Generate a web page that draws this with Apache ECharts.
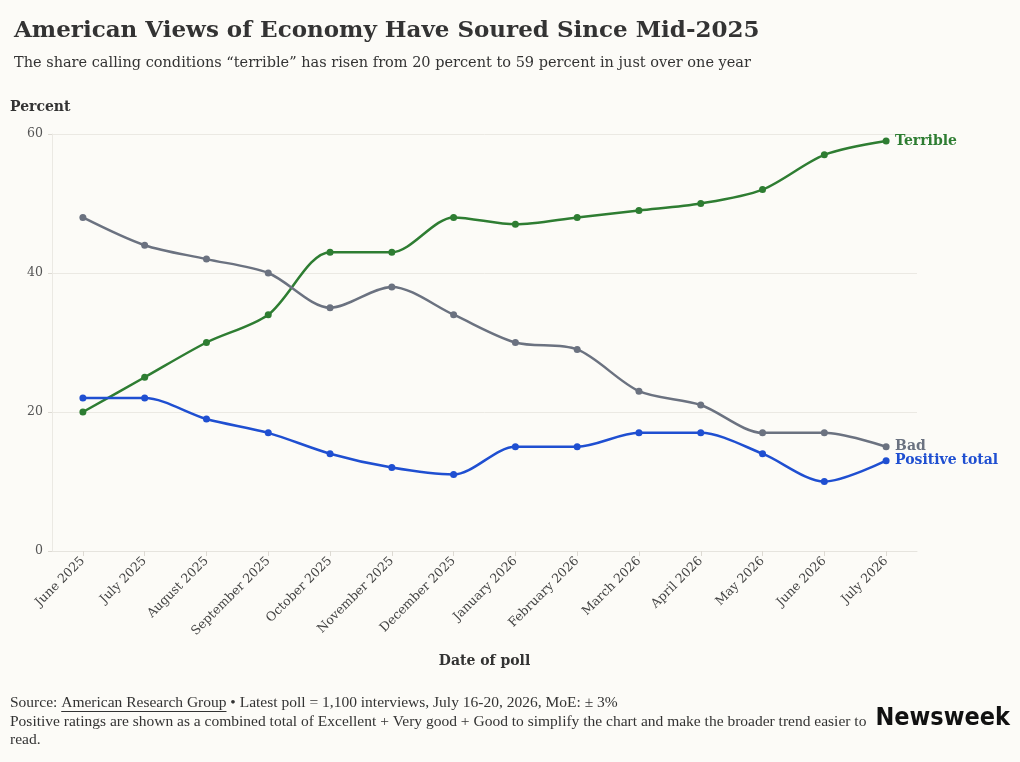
<!DOCTYPE html>
<html>
<head>
<meta charset="utf-8">
<script src="https://cdn.jsdelivr.net/npm/echarts@6/dist/echarts.min.js"></script>
<style>
  html, body { margin: 0; padding: 0; background: #fcfbf7; }
  #chart { width: 1020px; height: 762px; }
</style>
</head>
<body>
<div id="chart"></div>
<script>
const months = [
  "June 2025", "July 2025", "August 2025", "September 2025", "October 2025",
  "November 2025", "December 2025", "January 2026", "February 2026",
  "March 2026", "April 2026", "May 2026", "June 2026", "July 2026"
];
const terrible = [20, 25, 30, 34, 43, 43, 48, 47, 48, 49, 50, 52, 57, 59];
const bad = [48, 44, 42, 40, 35, 38, 34, 30, 29, 23, 21, 17, 17, 15];
const positive = [22, 22, 19, 17, 14, 12, 11, 15, 15, 17, 17, 14, 10, 13];
const yTicks = [0, 20, 40, 60];

const FONT = "'DejaVu Serif', 'Liberation Serif', serif";
const FOOT_FONT = "'Liberation Serif', serif";
const TEXT = "#333333";
const GREEN = "#2e7d32";
const GREY = "#6b7280";
const BLUE = "#1f4fd1";

const chart = echarts.init(document.getElementById("chart"));

// measure footer text so the underline sits under the source name
const ctx = document.createElement("canvas").getContext("2d");
ctx.font = "15.5px " + FOOT_FONT;
const srcPrefix = "Source: ";
const srcName = "American Research Group";
const ulX = 10 + ctx.measureText(srcPrefix).width;
const ulW = ctx.measureText(srcName).width;

function line(name, data, color) {
  return {
    name: name,
    type: "line",
    data: data,
    smooth: 0.3,
    symbol: "circle",
    symbolSize: 7,
    showSymbol: true,
    lineStyle: { color: color, width: 2.5 },
    itemStyle: { color: color },
    endLabel: {
      show: true,
      formatter: "{a}",
      color: color,
      fontFamily: FONT,
      fontWeight: "bold",
      fontSize: 14,
      distance: 9
    },
    emphasis: { disabled: true }
  };
}

chart.setOption({
  backgroundColor: "#fcfbf7",
  animation: false,
  textStyle: { fontFamily: FONT },
  title: {
    text: "American Views of Economy Have Soured Since Mid-2025",
    subtext: "The share calling conditions \u201cterrible\u201d has risen from 20 percent to 59 percent in just over one year",
    left: 9,
    top: 15,
    itemGap: 13,
    textStyle: { color: TEXT, fontFamily: FONT, fontWeight: "bold", fontSize: 23 },
    subtextStyle: { color: TEXT, fontFamily: FONT, fontSize: 14.5 }
  },
  grid: { left: 52, right: 103, top: 134, bottom: 211, containLabel: false },
  xAxis: {
    type: "category",
    data: months,
    boundaryGap: true,
    name: "Date of poll",
    nameLocation: "middle",
    nameGap: 103,
    nameTextStyle: { color: TEXT, fontFamily: FONT, fontWeight: "bold", fontSize: 14 },
    axisLine: { lineStyle: { color: "#e6e4de" } },
    axisTick: { show: true, alignWithLabel: true, length: 5, lineStyle: { color: "#dddad3" } },
    axisLabel: { rotate: 45, color: "#444", fontSize: 12.5, margin: 8, fontFamily: FONT }
  },
  yAxis: {
    type: "value",
    min: 0,
    max: 60,
    interval: 20,
    axisLine: { show: true, lineStyle: { color: "#ebe9e3" } },
    axisTick: { show: true, length: 4, lineStyle: { color: "#dddad3" } },
    axisLabel: {
      color: "#555", fontSize: 12.5, margin: 9, fontFamily: FONT,
      formatter: (v) => (yTicks.includes(v) ? String(v) : "")
    },
    splitLine: { lineStyle: { color: "#ebe9e3" } }
  },
  graphic: [
    {
      type: "text", left: 10, top: 100,
      style: { text: "Percent", fill: TEXT, font: "bold 14px " + FONT }
    },
    {
      type: "text", left: 10, top: 694,
      style: {
        text: srcPrefix + srcName + " \u2022 Latest poll = 1,100 interviews, July 16-20, 2026, MoE: \u00b1 3%\n" +
          "Positive ratings are shown as a combined total of Excellent + Very good + Good to simplify the chart and make the broader trend easier to\nread.",
        fill: TEXT, font: "15.5px " + FOOT_FONT, lineHeight: 18.5
      }
    },
    {
      type: "rect", silent: true,
      shape: { x: ulX, y: 711, width: ulW, height: 1 },
      style: { fill: TEXT }
    },
    {
      type: "text", right: 10, top: 706,
      style: { text: "Newsweek", fill: "#111", font: "bold 25px 'DejaVu Sans Condensed', 'DejaVu Sans', sans-serif" }
    }
  ],
  series: [
    line("Terrible", terrible, GREEN),
    line("Bad", bad, GREY),
    line("Positive total", positive, BLUE)
  ]
});
</script>
</body>
</html>
